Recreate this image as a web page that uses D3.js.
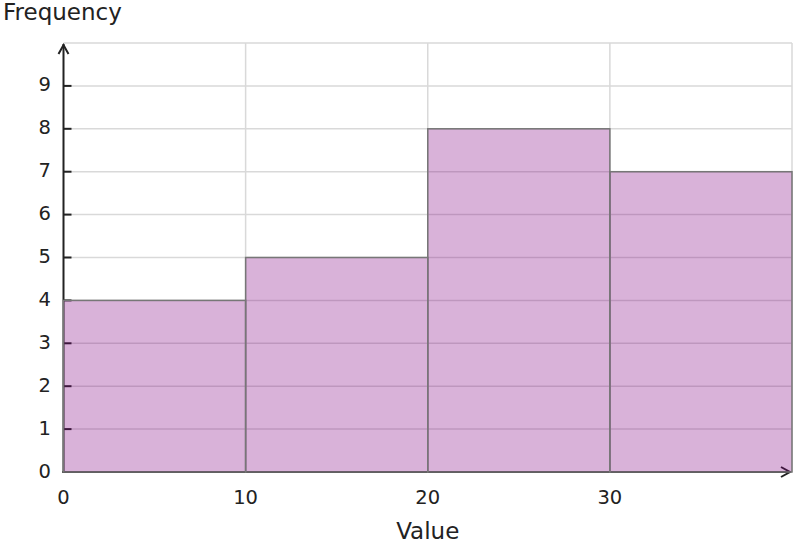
<!DOCTYPE html>
<html><head><meta charset="utf-8">
<script src="https://cdn.jsdelivr.net/npm/d3@7"></script>
<style>body{margin:0;background:#fff}svg{display:block;font-family:"DejaVu Sans",sans-serif}</style>
</head><body>
<svg id="c" width="796" height="548"></svg>
<script>
const binStarts = [0, 10, 20, 30];
const binEnds = [10, 20, 30, 40];
const frequencies = [4, 5, 8, 7];
const yTicks = [0,1,2,3,4,5,6,7,8,9];
const xTicks = [0,10,20,30];
const xGrid = [10,20,30,40];
const yGrid = [1,2,3,4,5,6,7,8,9,10];

const svg = d3.select("#c");
const x = d3.scaleLinear().domain([0,40]).range([63.5,792]);
const y = d3.scaleLinear().domain([0,10]).range([472,43]);

// grid
svg.append("g").selectAll("line").data(yGrid).join("line")
  .attr("x1", x(0)).attr("x2", x(40)).attr("y1", d=>y(d)).attr("y2", d=>y(d))
  .attr("stroke","#d9d9d9").attr("stroke-width",1.5);
svg.append("g").selectAll("line").data(xGrid).join("line")
  .attr("x1", d=>x(d)).attr("x2", d=>x(d)).attr("y1", y(0)).attr("y2", y(10))
  .attr("stroke","#d9d9d9").attr("stroke-width",1.5);

// axes
const ax = svg.append("g").attr("stroke","#222").attr("stroke-width",2).attr("fill","none");
ax.append("line").attr("x1",x(0)).attr("x2",x(0)).attr("y1",y(0)+1).attr("y2",y(10)+1);
ax.append("path").attr("d",`M${x(0)-5},${y(10)+11}L${x(0)},${y(10)+2}L${x(0)+5},${y(10)+11}`);
ax.append("line").attr("x1",x(0)-1).attr("x2",x(40)-2).attr("y1",y(0)).attr("y2",y(0));
ax.append("path").attr("d",`M${x(40)-11},${y(0)-5}L${x(40)-2},${y(0)}L${x(40)-11},${y(0)+5}`);
ax.append("g").selectAll("line").data(yTicks.filter(d=>d>0)).join("line")
  .attr("x1",x(0)).attr("x2",x(0)+8).attr("y1",d=>y(d)).attr("y2",d=>y(d));

// bars
svg.append("g").selectAll("rect").data(frequencies).join("rect")
  .attr("x",(d,i)=>x(binStarts[i]))
  .attr("width",(d,i)=>x(binEnds[i])-x(binStarts[i]))
  .attr("y",d=>y(d)).attr("height",d=>y(0)-y(d))
  .attr("fill","purple").attr("fill-opacity",0.3)
  .attr("stroke","#777").attr("stroke-width",1.5);

// tick labels
svg.append("g").selectAll("text").data(yTicks).join("text")
  .attr("x",51).attr("y",d=>y(d)+5.5).attr("text-anchor","end")
  .attr("font-size",19.5).attr("fill","#222").text(d=>d);
svg.append("g").selectAll("text").data(xTicks).join("text")
  .attr("x",d=>x(d)).attr("y",504).attr("text-anchor","middle")
  .attr("font-size",19.5).attr("fill","#222").text(d=>d);

svg.append("text").attr("x",3).attr("y",20).attr("font-size",23).attr("fill","#222").text("Frequency");
svg.append("text").attr("x",x(20)).attr("y",539).attr("text-anchor","middle").attr("font-size",23).attr("fill","#222").text("Value");
</script>
</body></html>
